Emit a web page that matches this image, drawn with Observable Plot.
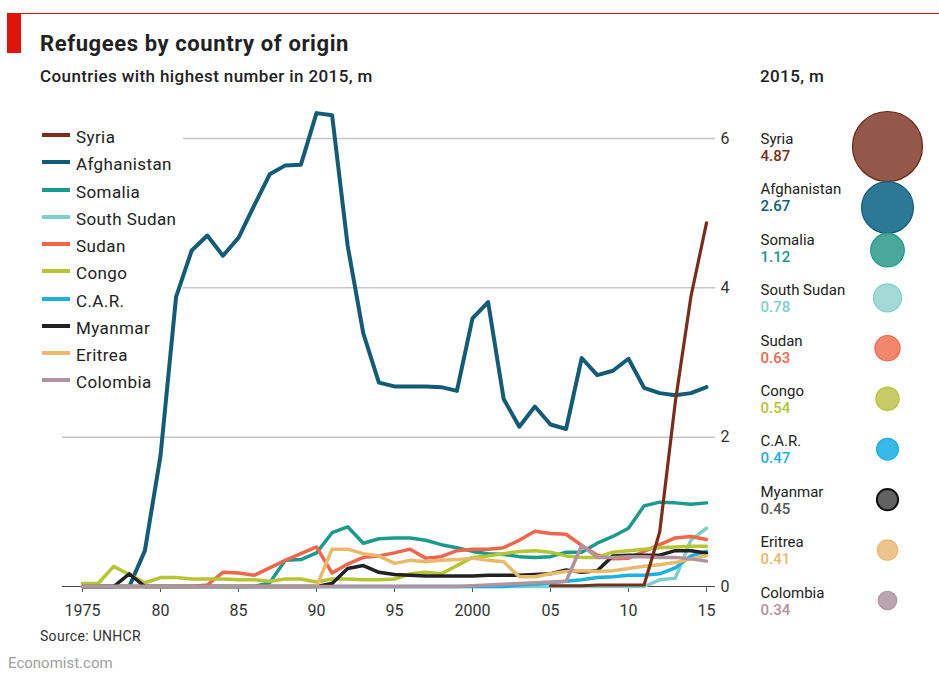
<!DOCTYPE html>
<html><head><meta charset="utf-8">
<script src="https://cdn.jsdelivr.net/npm/d3@7"></script>
<script src="https://cdn.jsdelivr.net/npm/@observablehq/plot@0.6"></script>
<style>
body{margin:0;background:#fff;font-family:Roboto,"Noto Sans",sans-serif;color:#222;}
#root{position:relative;width:939px;height:673px;overflow:hidden;}
.a{position:absolute;white-space:nowrap;}
</style></head><body><div id="root"></div>
<script>
const FONT = 'Roboto, "Noto Sans", sans-serif';

const years = [1975,1976,1977,1978,1979,1980,1981,1982,1983,1984,1985,1986,1987,1988,1989,1990,1991,1992,1993,1994,1995,1996,1997,1998,1999,2000,2001,2002,2003,2004,2005,2006,2007,2008,2009,2010,2011,2012,2013,2014,2015];
const tickYears = [1975,1980,1985,1990,1995,2000,2005,2010,2015];
const tickLabels = ["1975","80","85","90","95","2000","05","10","15"];
const yTicks = [0,2,4,6];

const countries = ["Syria","Afghanistan","Somalia","South Sudan","Sudan","Congo","C.A.R.","Myanmar","Eritrea","Colombia"];

const syria = [null,null,null,null,null, null,null,null,null,null, null,null,null,null,null, null,null,null,null,null, null,null,null,null,null, null,null,null,null,null, 0.01,0.01,0.01,0.02,0.02, 0.02,0.02,0.73,2.47,3.88, 4.87];
const afghanistan = [0,0,0,0,0.48, 1.75,3.88,4.5,4.7,4.43, 4.67,5.1,5.52,5.64,5.65, 6.34,6.31,4.56,3.39,2.73, 2.68,2.68,2.68,2.67,2.62, 3.59,3.81,2.51,2.14,2.41, 2.17,2.11,3.06,2.83,2.89, 3.05,2.66,2.59,2.56,2.59, 2.67];
const somalia = [0,0,0,0,0, 0,0,0,0,0, 0,0,0.05,0.35,0.36, 0.45,0.72,0.8,0.58,0.64, 0.65,0.65,0.62,0.56,0.52, 0.47,0.44,0.43,0.4,0.39, 0.4,0.46,0.46,0.58,0.67, 0.78,1.08,1.13,1.12,1.1, 1.12];
const southSudan = [0,0,0,0,0, 0,0,0,0,0, 0,0,0,0,0, 0,0,0,0,0, 0,0,0,0,0, 0,0,0,0,0, 0,0,0,0,0, 0,0,0.09,0.11,0.62, 0.78];
const sudan = [0,0,0,0,0, 0,0,0,0.02,0.19, 0.18,0.15,0.25,0.35,0.44, 0.53,0.18,0.3,0.39,0.41, 0.45,0.5,0.38,0.4,0.48, 0.5,0.5,0.52,0.62,0.74, 0.71,0.7,0.55,0.42,0.37, 0.38,0.47,0.56,0.65,0.67, 0.63];
const congo = [0.04,0.04,0.27,0.16,0.05, 0.12,0.12,0.1,0.1,0.1, 0.09,0.09,0.07,0.1,0.1, 0.06,0.1,0.1,0.09,0.09, 0.1,0.17,0.19,0.17,0.28, 0.39,0.41,0.44,0.47,0.48, 0.46,0.41,0.39,0.39,0.46, 0.48,0.5,0.52,0.53,0.54, 0.54];
const car = [0,0,0,0,0, 0,0,0,0,0, 0,0,0,0,0, 0,0,0,0,0, 0,0,0,0,0, 0,0,0,0.02,0.03, 0.05,0.07,0.09,0.12,0.13, 0.15,0.15,0.17,0.25,0.41, 0.47];
const myanmar = [0,0,0,0.17,0, 0,0,0,0,0, 0,0,0,0,0, 0,0.04,0.24,0.28,0.19, 0.16,0.15,0.14,0.14,0.14, 0.14,0.15,0.15,0.15,0.16, 0.17,0.22,0.19,0.21,0.41, 0.42,0.42,0.42,0.48,0.48, 0.45];
const eritrea = [0,0,0,0,0, 0,0,0,0,0, 0,0,0,0,0, 0,0.5,0.5,0.44,0.41, 0.31,0.35,0.33,0.35,0.36, 0.38,0.35,0.33,0.13,0.13, 0.17,0.2,0.21,0.2,0.21, 0.24,0.27,0.29,0.32,0.37, 0.41];
const colombia = [0,0,0,0,0, 0,0,0,0,0, 0,0,0,0,0, 0,0,0,0,0, 0,0,0,0,0, 0.01,0.02,0.03,0.04,0.05, 0.06,0.07,0.55,0.39,0.39, 0.4,0.4,0.39,0.39,0.37, 0.34];

const totals2015 = [4.87,2.67,1.12,0.78,0.63,0.54,0.47,0.45,0.41,0.34];

const lineColors = ["#7b2d1b","#135c78","#1a9b8d","#80cfcd","#f1664b","#b7c434","#1cb0e3","#222222","#e9ba6b","#b1939f"];
const dotFills   = ["#8b4a3c","#1b6d8b","#3aa093","#9dd6d4","#f07e62","#c3c75c","#28b3e5","#555555","#edbf84","#b99ca8"];
const dotStrokes = ["#6b2515","#135c78","#1a9b8d","#80cfcd","#f1664b","#b7c434","#1cb0e3","#111111","#e9ba6b","#b1939f"];
const valueColors = ["#7b2d1b","#135c78","#1a9b8d","#80cfcd","#f1664b","#b7c434","#1cb0e3","#555555","#e9ba6b","#b1939f"];

const seriesValues = [syria,afghanistan,somalia,southSudan,sudan,congo,car,myanmar,eritrea,colombia];
const drawOrder = [1,2,3,4,5,6,7,8,9,0];

const root = document.getElementById("root");
function add(html, style){ const d=document.createElement("div"); d.className="a"; d.innerHTML=html; Object.assign(d.style, style); root.appendChild(d); return d; }

// header
add("", {left:"7px", top:"13px", width:"932px", height:"1px", background:"#e3120b"});
add("", {left:"7px", top:"13px", width:"14px", height:"40px", background:"#e3120b"});
add("Refugees by country of origin", {left:"40px", top:"33px", fontSize:"22px", lineHeight:"22px", fontWeight:"700", color:"#222", letterSpacing:"0.6px"});
add("Countries with highest number in 2015, m", {left:"40px", top:"68px", fontSize:"17px", lineHeight:"16px", fontWeight:"500", color:"#222", letterSpacing:"0.4px"});
add("2015, m", {left:"760px", top:"68px", fontSize:"17px", lineHeight:"16px", fontWeight:"500", color:"#222", letterSpacing:"0.4px"});

// main chart
const lineMarks = drawOrder.map(k => {
  const data = years.map((yr,i) => ({year: yr, value: seriesValues[k][i]})).filter(d => d.value != null);
  return Plot.line(data, {x:"year", y:"value", stroke: lineColors[k], strokeWidth: k===1 ? 4 : (k===0 ? 3.2 : 3.5), strokeLinejoin:"round"});
});

const main = Plot.plot({
  width: 745, height: 520,
  marginLeft: 82, marginRight: 39, marginTop: 38, marginBottom: 34,
  x: {domain: [1975, 2015]},
  y: {domain: [0, 6]},
  style: {fontFamily: FONT, fontSize: "16px", color: "#333", background: "transparent", overflow: "visible"},
  marks: [
    Plot.ruleY([yTicks[1]], {stroke:"#c6c6c6", strokeWidth:1.5, insetLeft:-20, insetRight:-9}),
    Plot.ruleY(yTicks.slice(2), {stroke:"#c6c6c6", strokeWidth:1.5, insetLeft:101, insetRight:-9}),
    Plot.ruleY([yTicks[0]], {stroke:"#444", strokeWidth:1, insetLeft:-20, insetRight:-9}),
    Plot.axisX({ticks: tickYears, tickFormat: d => tickLabels[tickYears.indexOf(d)], tickSize: 6, tickPadding: 12, stroke:"#555", fill:"#333", fontSize: 16, label: null}),
    Plot.axisY({anchor:"right", ticks: yTicks, tickFormat: d => String(d), tickSize: 0, tickPadding: 14, fill:"#333", fontSize: 16, label: null}),
    ...lineMarks
  ]
});
const mw = document.createElement("div"); mw.className="a"; Object.assign(mw.style,{left:"0px", top:"100px"}); mw.appendChild(main); root.appendChild(mw);

// legend
countries.forEach((c,i) => {
  add("", {left:"42px", top:(133 + 27.25*i)+"px", width:"28px", height:"4px", background: lineColors[i]});
  add(c, {left:"76px", top:(127.2 + 27.25*i)+"px", fontSize:"17px", lineHeight:"20px", color:"#222", letterSpacing:"0.4px"});
});

// right panel
const step = 50.4;
const rOf = v => 35*Math.sqrt(v/totals2015[0]);
const slots = [];
totals2015.forEach((v,i) => {
  if (i===0) slots.push(0);
  else slots.push(Math.max(i, slots[i-1] + (rOf(totals2015[i-1]) + rOf(v))/step));
});
const rows = countries.map((c,i) => ({name:c, value: totals2015[i], i, slot: slots[i], fill: dotFills[i], stroke: dotStrokes[i], vcol: valueColors[i]}));

const panel = Plot.plot({
  width: 194, height: 520, margin: 0,
  x: {domain:[0,1], range:[15,142], axis: null},
  y: {domain:[0,9], range:[46,500], axis: null},
  r: {type:"sqrt", domain:[0, totals2015[0]], range:[0,35]},
  style: {fontFamily: FONT, background:"transparent", overflow:"visible"},
  marks: [
    Plot.dot(rows, {x: d => 1, y: "slot", r: "value", fill: d => d.fill, fillOpacity: 0.92, stroke: d => d.stroke, strokeWidth: d => d.i===7 ? 2 : 1.2, sort: null}),
    Plot.text(rows, {x: d => 0, y: "i", text: "name", textAnchor:"start", lineAnchor:"middle", dy:-7.5, fontSize: 15, fontWeight: 400, fill:"#222", letterSpacing: "0.3px"}),
    Plot.text(rows, {x: d => 0, y: "i", text: d => d3.format(".2f")(d.value), textAnchor:"start", lineAnchor:"middle", dy:9.5, fontSize: 15, fontWeight: 500, fill: d => d.vcol, letterSpacing: "0.3px"})
  ]
});
const pw = document.createElement("div"); pw.className="a"; Object.assign(pw.style,{left:"745px", top:"100px"}); pw.appendChild(panel); root.appendChild(pw);

// footer
add("Source: UNHCR", {left:"40px", top:"629px", fontSize:"14px", lineHeight:"14px", color:"#333", letterSpacing:"0.3px"});
add("Economist.com", {left:"8px", top:"656px", fontSize:"15px", lineHeight:"15px", color:"#a0a0a0"});
</script></body></html>
